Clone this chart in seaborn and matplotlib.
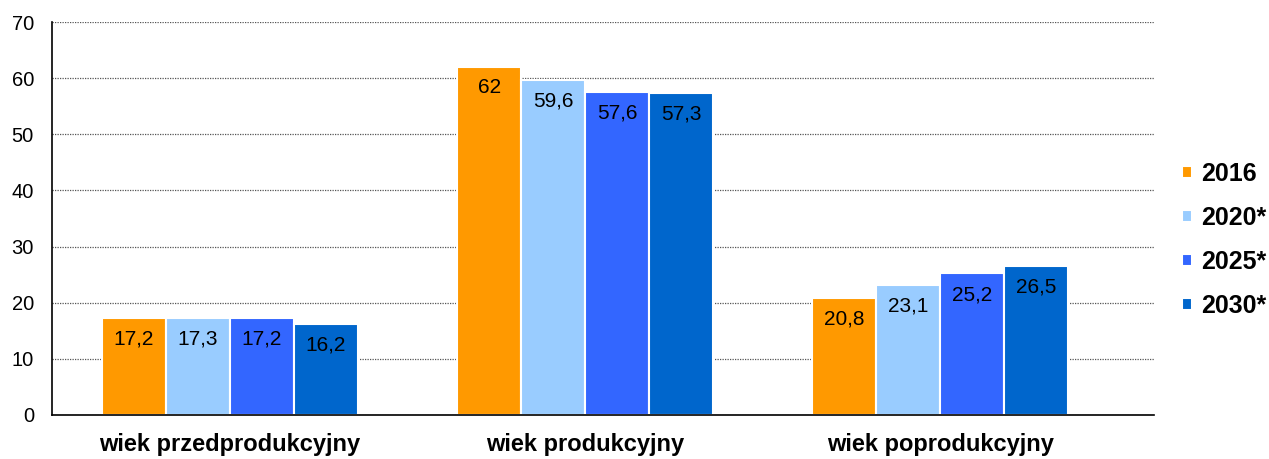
import pandas as pd
import numpy as np
import seaborn as sns
import matplotlib.pyplot as plt

# dane
grupy = ['wiek przedprodukcyjny', 'wiek produkcyjny', 'wiek poprodukcyjny']
lata = ['2016', '2020*', '2025*', '2030*']
v2016 = [17.2, 62, 20.8]
v2020 = [17.3, 59.6, 23.1]
v2025 = [17.2, 57.6, 25.2]
v2030 = [16.2, 57.3, 26.5]
kolory = ['#FF9900', '#99CCFF', '#3366FF', '#0066CC']

df = pd.DataFrame({
    'grupa': grupy * 4,
    'rok': np.repeat(lata, 3),
    'wartosc': v2016 + v2020 + v2025 + v2030,
})

sns.set_style('white')
plt.rcParams['font.family'] = ['Liberation Sans', 'DejaVu Sans']
plt.rcParams['text.color'] = 'black'

fig = plt.figure(figsize=(12.69, 4.59), dpi=100)
ax = fig.add_axes([0.041, 0.096, 0.868, 0.856])
sns.barplot(data=df, x='grupa', y='wartosc', hue='rok', order=grupy, hue_order=lata,
            palette=kolory, width=0.72, edgecolor='white', linewidth=1.5,
            saturation=1, errorbar=None, ax=ax)

# etykiety wartosci
for cont in ax.containers:
    etyk = [f'{v:g}'.replace('.', ',') for v in cont.datavalues]
    ax.bar_label(cont, labels=etyk, padding=-22, fontsize=15, color='black')

ax.set_ylim(0, 70)
ax.set_xlim(-0.5, 2.6)
ax.set_yticks(range(0, 71, 10))
ax.yaxis.grid(True, linestyle=(0, (1, 1)), color='#555555', linewidth=0.9)
ax.set_axisbelow(True)
ax.set_xlabel('')
ax.set_ylabel('')
sns.despine(ax=ax, top=True, right=True)
for s in ['left', 'bottom']:
    ax.spines[s].set_color('black')
    ax.spines[s].set_linewidth(1.2)
ax.tick_params(axis='y', length=0, pad=13, labelsize=14.5, labelcolor='black')
ax.tick_params(axis='x', length=0, pad=13, labelsize=17, labelcolor='black')
for t in ax.get_xticklabels():
    t.set_fontweight('bold')

leg = ax.legend(loc='center left', bbox_to_anchor=(1182 / 1269, 1 - 240 / 459),
                bbox_transform=fig.transFigure, frameon=False,
                borderaxespad=0, borderpad=0,
                handlelength=0.4, handleheight=0.4, handletextpad=0.35,
                labelspacing=0.8, prop={'weight': 'bold', 'size': 18})
for t in leg.get_texts():
    t.set_color('black')

fig.savefig('out.png', dpi=100)
